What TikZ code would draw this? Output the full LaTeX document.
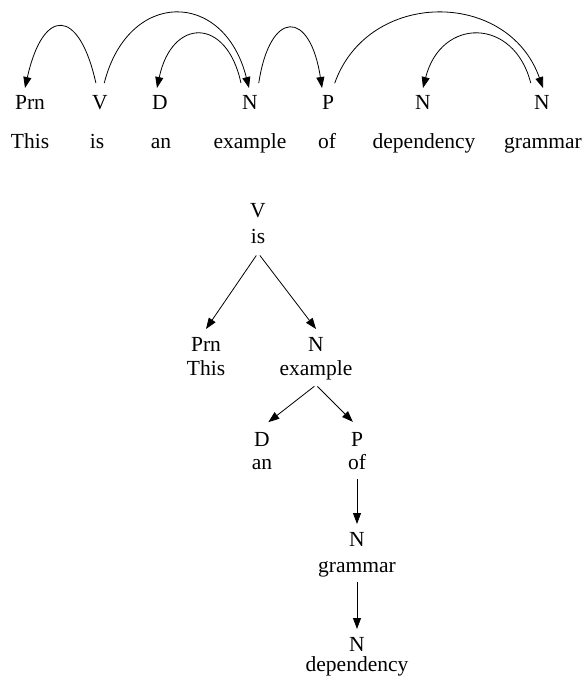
\documentclass[tikz,border=0pt]{standalone}
\usepackage{fontspec}
\setmainfont{Liberation Serif}
\usetikzlibrary{arrows.meta}
\begin{document}
\begin{tikzpicture}[x=1pt,y=-1pt,
  every node/.style={font=\fontsize{21.5}{25}\selectfont, inner sep=0pt, anchor=base},
  tag/.style={text height=14pt, text depth=0pt, outer ysep=8pt},
  word/.style={text height=14pt, text depth=0pt, outer ysep=10pt},
  arc/.style={line width=0.8pt, -{Triangle[length=11pt,width=8pt]}},
]
\useasboundingbox (0,0) rectangle (587,676);

% ---- top row: tags
\node[tag] (tPrn) at (30,110) {Prn};
\node[tag] (tV)   at (100,110) {V};
\node[tag] (tD)   at (160,110) {D};
\node[tag] (tN)   at (250,110) {N};
\node[tag] (tP)   at (328,110) {P};
\node[tag] (tNd)  at (423,110) {N};
\node[tag] (tNg)  at (542,110) {N};
% ---- top row: words
\node[word] (wThis) at (30,149) {This};
\node[word] (wis)   at (97,149) {is};
\node[word] (wan)   at (161,149) {an};
\node[word] (wex)   at (250,149) {example};
\node[word] (wof)   at (327,149) {of};
\node[word] (wdep)  at (424,149) {dependency};
\node[word] (wgr)   at (543,149) {grammar};

% ---- arcs
\draw[arc, shorten <=5pt] ([xshift=-3pt]tV.north) .. controls +(-18,-81) and +(18,-81) .. ([xshift=-5pt]tPrn.north);
\draw[arc, shorten <=5pt] ([xshift=3pt]tV.north) .. controls +(25,-99) and +(-25,-99) .. ([xshift=-1pt]tN.north);
\draw[arc, shorten <=5pt] ([xshift=-8pt]tN.north) .. controls +(-15,-71) and +(15,-71) .. ([xshift=-3pt]tD.north);
\draw[arc, shorten <=5pt] ([xshift=8pt]tN.north) .. controls +(12,-79) and +(-12,-79) .. ([xshift=-6pt]tP.north);
\draw[arc, shorten <=5pt] ([xshift=5pt]tP.north) .. controls +(35,-99) and +(-35,-99) .. ([xshift=1pt]tNg.north);
\draw[arc, shorten <=5pt] ([xshift=-10pt]tNg.north) .. controls +(-18,-71) and +(18,-71) .. (tNd.north);

% ---- tree
\node[tag]  (xV)    at (258,218) {V};
\node[word] (xis)   at (258,243) {is};
\node[tag]  (xPrn)  at (206,351) {Prn};
\node[word] (xThis) at (206,375) {This};
\node[tag]  (xN)    at (316,351) {N};
\node[word] (xex)   at (316,375) {example};
\node[tag]  (xD)    at (262,446) {D};
\node[word] (xan)   at (262,469) {an};
\node[tag]  (xP)    at (357,446) {P};
\node[word] (xof)   at (357,469) {of};
\node[tag]  (xNg)   at (357,546) {N};
\node[word] (xgr)   at (357,572) {grammar};
\node[tag]  (xNd)   at (357,651) {N};
\node[word] (xdep)  at (357,671) {dependency};

\draw[arc, shorten <=3pt] (xis.south) -- (xPrn.north);
\draw[arc, shorten <=3pt] (xis.south) -- (xN.north);
\draw[arc, shorten <=2pt, shorten >=3pt] (xex.south) -- ([xshift=4pt]xD.north);
\draw[arc, shorten <=2pt, shorten >=3pt] (xex.south) -- ([xshift=-2pt]xP.north);
\draw[arc] (xof.south) -- (xNg.north);
\draw[arc] (xgr.south) -- (xNd.north);
\end{tikzpicture}
\end{document}
